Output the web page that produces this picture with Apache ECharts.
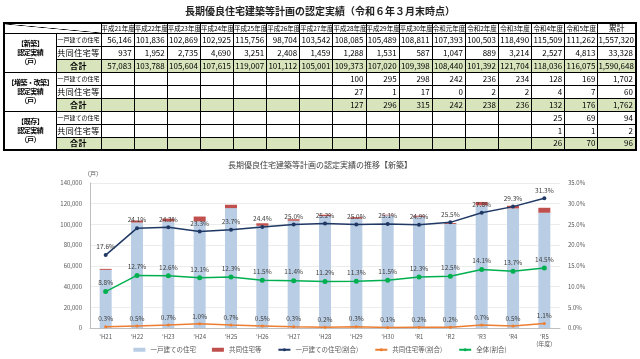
<!DOCTYPE html>
<html><head><meta charset="utf-8">
<script src="https://cdn.jsdelivr.net/npm/echarts@6/dist/echarts.min.js"></script>
<style>
body{margin:0;background:#fff;}
#wrap{position:relative;width:640px;height:359px;background:#fff;overflow:hidden;font-family:"Noto Sans CJK JP",sans-serif;}
#chart{position:absolute;left:0;top:0;width:640px;height:359px;}
#t1{position:absolute;left:0;top:3px;width:640px;text-align:center;font-size:10px;font-weight:bold;color:#222;}
#tbl{position:absolute;left:3px;top:22px;width:632px;border-collapse:collapse;table-layout:fixed;border:2px solid #000;}
#tbl td{border:1px solid #000;padding:0 2px 0 0;font-size:8px;line-height:8px;text-align:right;color:#000;overflow:hidden;white-space:nowrap;}
#tbl td.h{text-align:center;font-size:6.5px;padding:0;}
#tbl td.lab{text-align:center;font-size:7px;line-height:9px;padding:0;white-space:nowrap;font-weight:bold;letter-spacing:-0.5px;overflow:visible;}
#tbl td.sub{text-align:center;padding:0;font-size:8px;letter-spacing:0.5px;}
#tbl td.sub.small{font-size:6px;letter-spacing:0;}
#tbl tr.g td{background:#d8e4bc;}
#tbl tr.g td.sub{font-weight:bold;}
#tbl td.diag{background:linear-gradient(to top right,transparent calc(50% - 0.6px),#000 50%,transparent calc(50% + 0.6px));}
</style></head>
<body>
<div id="wrap">
<div id="chart"></div>
<div id="t1">長期優良住宅建築等計画の認定実績（令和６年３月末時点）</div>
<table id="tbl"></table>
</div>
<script>
// ---- table data ----
const headers = ['平成21年度','平成22年度','平成23年度','平成24年度','平成25年度','平成26年度','平成27年度','平成28年度','平成29年度','平成30年度','令和元年度','令和2年度','令和3年度','令和4年度','令和5年度','累計'];
const newDetached = [56146,101836,102869,102925,115756,98704,103542,108085,105489,108811,107393,100503,118490,115509,111262,1557320];
const newCollective = [937,1952,2735,4690,3251,2408,1459,1288,1531,587,1047,889,3214,2527,4813,33328];
const newTotal = [57083,103788,105604,107615,119007,101112,105001,109373,107020,109398,108440,101392,121704,118036,116075,1590648];
const renoDetached = [null,null,null,null,null,null,null,100,295,298,242,236,234,128,169,1702];
const renoCollective = [null,null,null,null,null,null,null,27,1,17,0,2,2,4,7,60];
const renoTotal = [null,null,null,null,null,null,null,127,296,315,242,238,236,132,176,1762];
const exDetached = [null,null,null,null,null,null,null,null,null,null,null,null,null,25,69,94];
const exCollective = [null,null,null,null,null,null,null,null,null,null,null,null,null,1,1,2];
const exTotal = [null,null,null,null,null,null,null,null,null,null,null,null,null,26,70,96];
const groupLabels = ['【新築】<br>認定実績<br>（戸）','【増築・改築】<br>認定実績<br>（戸）','【既存】<br>認定実績<br>（戸）'];

// ---- chart data ----
const categories = ["'H21","'H22","'H23","'H24","'H25","'H26","'H27","'H28","'H29","'H30","'R1","'R2","'R3","'R4","'R5\n(年度)"];
const barDetached = newDetached.slice(0,15);
const barCollective = newCollective.slice(0,15);
const ratioDetached = [17.6,24.1,24.3,23.3,23.7,24.4,25.0,25.2,25.0,25.1,24.9,25.5,27.8,29.3,31.3];
const ratioCollective = [0.3,0.5,0.7,1.0,0.7,0.5,0.3,0.2,0.3,0.1,0.2,0.2,0.7,0.5,1.1];
const ratioAll = [8.8,12.7,12.6,12.1,12.3,11.5,11.4,11.2,11.3,11.5,12.3,12.5,14.1,13.7,14.5];

// ---- build table ----
const fmt = v => v == null ? '' : v.toLocaleString('en-US');
const tbl = document.getElementById('tbl');
let html = '<colgroup><col style="width:52px"><col style="width:45px">';
for (let i=0;i<15;i++) html += '<col style="width:33.13px">';
html += '<col style="width:38px"></colgroup>';
html += '<tr style="height:10px"><td colspan="2" class="diag"></td>' + headers.map((h,i)=>'<td class="h"'+(i==15?' style="font-size:8px"':'')+'>'+h+'</td>').join('') + '</tr>';
const groups = [[newDetached,newCollective,newTotal],[renoDetached,renoCollective,renoTotal],[exDetached,exCollective,exTotal]];
const subs = ['一戸建ての住宅','共同住宅等','合計'];
groups.forEach((g,gi)=>{
  g.forEach((arr,ri)=>{
    html += '<tr style="height:13px"'+(ri==2?' class="g"':'')+'>';
    if (ri==0) html += '<td rowspan="3" class="lab" style="background:#fff">'+groupLabels[gi]+'</td>';
    html += '<td class="sub'+(ri==0?' small':'')+'">'+subs[ri]+'</td>';
    html += arr.map(v=>'<td>'+fmt(v)+'</td>').join('');
    html += '</tr>';
  });
});
tbl.innerHTML = html;

// ---- chart ----
const chart = echarts.init(document.getElementById('chart'));
const lblStyle = {show:true,position:'top',fontSize:6.5,color:'#404040',distance:3,formatter:p=>p.value.toFixed(1)+'%'};
chart.setOption({
  animation:false,
  textStyle:{fontFamily:'"Noto Sans CJK JP",sans-serif'},
  title:{text:'長期優良住宅建築等計画の認定実績の推移【新築】',left:315,top:156,textAlign:'center',textStyle:{fontSize:8,fontWeight:'normal',color:'#404040'}},
  grid:{left:90,right:80,top:183,bottom:31},
  legend:{bottom:1,left:'center',itemWidth:12,itemHeight:4,itemGap:16,textStyle:{fontSize:6.5,color:'#595959'},
    data:[{name:'一戸建ての住宅',icon:'rect'},{name:'共同住宅等',icon:'rect'},'一戸建ての住宅(割合)','共同住宅等(割合)','全体(割合)']},
  xAxis:{type:'category',data:categories,axisTick:{show:false},axisLine:{lineStyle:{color:'#bfbfbf'}},
    axisLabel:{fontSize:6,color:'#595959',margin:5,lineHeight:7}},
  yAxis:[
    {type:'value',min:0,max:140000,interval:20000,name:'（戸）',nameLocation:'end',nameGap:6,
     nameTextStyle:{fontSize:6,color:'#595959',align:'left',padding:[0,0,0,-6]},
     axisLine:{show:true,lineStyle:{color:'#bfbfbf'}},axisTick:{show:false},
     axisLabel:{fontSize:6,color:'#595959',formatter:v=>v.toLocaleString('en-US')},
     splitLine:{lineStyle:{color:'#ececec'}}},
    {type:'value',min:0,max:35,interval:5,axisLine:{show:false},axisTick:{show:false},splitLine:{show:false},
     axisLabel:{fontSize:6,color:'#595959',formatter:v=>v.toFixed(1)+'%'}}
  ],
  series:[
    {name:'一戸建ての住宅',type:'bar',stack:'a',barWidth:12,data:barDetached,itemStyle:{color:'#b9cde5'}},
    {name:'共同住宅等',type:'bar',stack:'a',barWidth:12,data:barCollective,itemStyle:{color:'#c0504d'}},
    {name:'一戸建ての住宅(割合)',type:'line',yAxisIndex:1,data:ratioDetached,symbol:'circle',symbolSize:4,
     lineStyle:{color:'#1f3864',width:1.5},itemStyle:{color:'#1f3864'},label:lblStyle,z:5},
    {name:'共同住宅等(割合)',type:'line',yAxisIndex:1,data:ratioCollective,symbol:'circle',symbolSize:3,
     lineStyle:{color:'#ed7d31',width:1.5},itemStyle:{color:'#ed7d31'},label:lblStyle,z:5},
    {name:'全体(割合)',type:'line',yAxisIndex:1,data:ratioAll,symbol:'circle',symbolSize:5,
     lineStyle:{color:'#00b050',width:1.5},itemStyle:{color:'#00b050'},label:lblStyle,z:5}
  ]
});
</script>
</body></html>
